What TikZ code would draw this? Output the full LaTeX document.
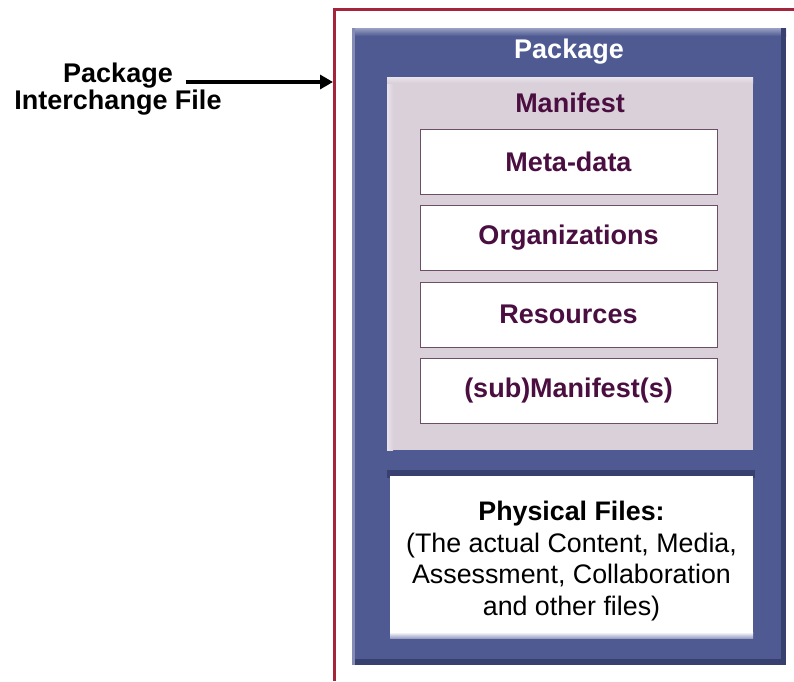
\documentclass[tikz,border=0pt]{standalone}
\usepackage{fontspec}
\setmainfont{Liberation Sans}
\usetikzlibrary{arrows.meta}

\definecolor{framered}{HTML}{A3243B}
\definecolor{pkgblue}{HTML}{4F5A92}
\definecolor{pkgdark}{HTML}{37406E}
\definecolor{pkglight}{HTML}{9AA1C4}
\definecolor{maniback}{HTML}{D9D0DA}
\definecolor{manilight}{HTML}{E9E4EA}
\definecolor{txtpurple}{HTML}{4A0E40}
\definecolor{boxline}{HTML}{6E4E64}

\tikzset{
  bigfont/.style={font=\fontsize{27}{31}\selectfont\bfseries},
  sidefont/.style={font=\fontsize{27}{24}\selectfont\bfseries},
  bodyfont/.style={font=\fontsize{26.8}{31.5}\selectfont},
  sectionbox/.style={minimum width=297pt, minimum height=65pt, fill=white,
    draw=boxline, line width=0.8pt, text=txtpurple, bigfont, inner sep=0pt},
  plain/.style={inner sep=0pt, outer sep=0pt},
  pointer/.style={line width=3.2pt, -{Triangle[length=13pt,width=14pt]}}
}

\begin{document}
\begin{tikzpicture}[x=1pt, y=-1pt]
\useasboundingbox (0,0) rectangle (794,681);
\fill[white] (0,0) rectangle (794,681);

% open red frame of the interchange file
\draw[framered, line width=2.8pt] (794,9.5) -- (334.5,9.5) -- (334.5,681);
\coordinate (tip) at (333,82);

% package frame with bevelled edges
\node[plain, fill=pkgblue, minimum width=434pt, minimum height=637pt] (pkg) at (569,346.5) {};
\shade[top color=pkglight, bottom color=pkgblue] (352,28) rectangle (786,36);
\fill[pkgdark] (781,28) rectangle (786,665);
\fill[pkgdark] (352,659) rectangle (786,665);
\fill[pkglight!70!pkgblue] (352,28) rectangle (355,665);
\node[plain, text=white, bigfont] (pkgtitle) at (569,52) {Package};

% manifest block
\node[plain, fill=maniback, minimum width=366pt, minimum height=373pt] (mani) at (570,263.5) {};
\shade[left color=manilight, right color=maniback] (387,77) rectangle (393,450);
\shade[top color=manilight, bottom color=maniback] (387,77) rectangle (753,83);
\node[plain, text=txtpurple, bigfont] (manititle) at (570,103) {Manifest};

\node[sectionbox] (meta) at (568.5,161.5) {Meta-data};
\node[sectionbox] (orgs) at (568.5,238) {Organizations};
\node[sectionbox] (res)  at (568.5,314.5) {Resources};
\node[sectionbox] (sub)  at (568.5,390.5) {(sub)Manifest(s)};

% physical files block
\fill[pkgdark] (387,470) rectangle (755,478);
\node[plain, fill=white, minimum width=363pt, minimum height=162pt] (phys) at (571.5,556.5) {};
\shade[top color=white, bottom color=pkglight] (390,632) rectangle (753,638);
\node[plain, align=center, bodyfont] (physlbl) at (571.5,561)
  {\textbf{Physical Files:}\\(The actual Content, Media,\\Assessment, Collaboration\\and other files)};

% outside label and pointer
\node[plain, sidefont, align=center] (pif) at (118,89) {Package\\Interchange File};
\draw[pointer] ([xshift=-36pt]pif.east |- tip) -- (tip);
\end{tikzpicture}
\end{document}
